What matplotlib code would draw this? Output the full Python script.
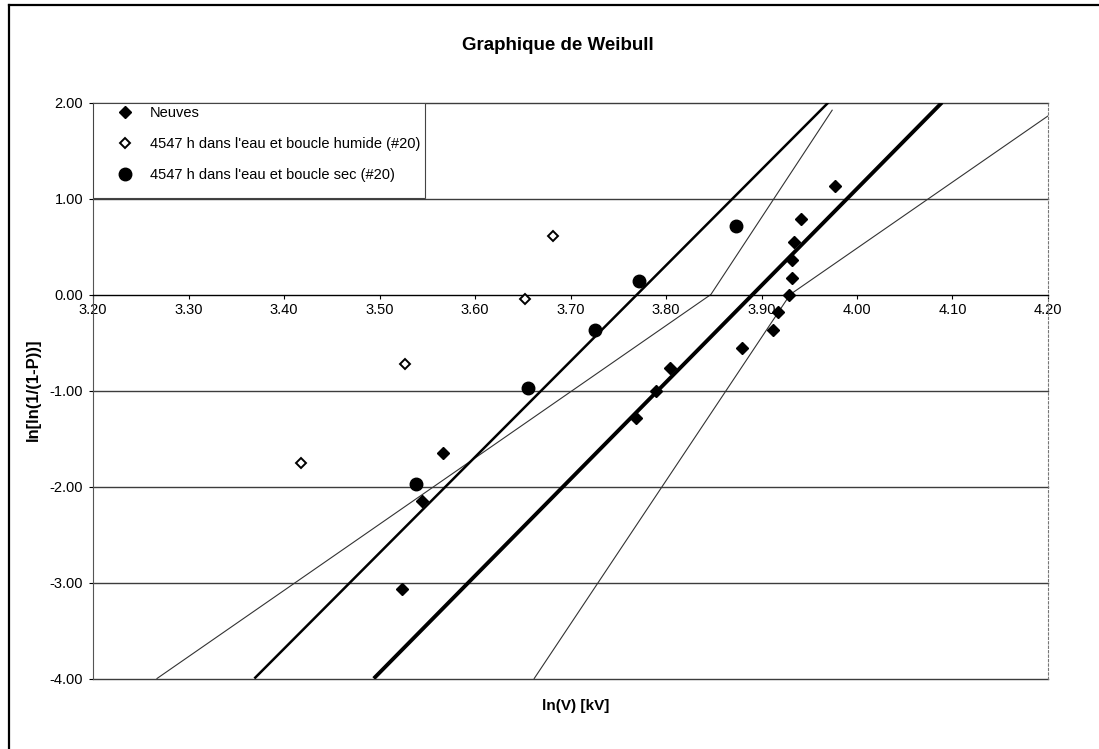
import matplotlib
matplotlib.use("Agg")
import matplotlib.pyplot as plt
from matplotlib.lines import Line2D
from matplotlib.patches import Rectangle

plt.rcParams["font.family"] = ["Liberation Sans", "DejaVu Sans"]

# Observed points: ln(V) and ln[ln(1/(1-P))]
neuves_lnv = [3.524, 3.545, 3.567, 3.769, 3.790, 3.804, 3.880, 3.912,
              3.917, 3.929, 3.932, 3.932, 3.934, 3.941, 3.977]
neuves_w = [-3.07, -2.15, -1.65, -1.29, -1.01, -0.77, -0.56, -0.37,
            -0.18, -0.01, 0.17, 0.36, 0.55, 0.79, 1.13]

humide_lnv = [3.418, 3.527, 3.652, 3.682]
humide_w = [-1.75, -0.72, -0.05, 0.61]

sec_lnv = [3.538, 3.655, 3.726, 3.772, 3.873]
sec_w = [-1.97, -0.97, -0.37, 0.14, 0.71]

# Fitted Weibull lines and bounds (vertices)
droite_neuves_lnv = [3.494, 4.089]
droite_neuves_w = [-4.0, 2.0]
droite_sec_lnv = [3.369, 3.970]
droite_sec_w = [-4.0, 2.0]
borne_gauche_lnv = [3.267, 3.847, 3.974]
borne_gauche_w = [-4.0, 0.0, 1.92]
borne_droite_lnv = [3.662, 3.930, 4.200]
borne_droite_w = [-4.0, 0.0, 1.86]

xticks = [3.20, 3.30, 3.40, 3.50, 3.60, 3.70, 3.80, 3.90, 4.00, 4.10, 4.20]
yticks = [-4.0, -3.0, -2.0, -1.0, 0.0, 1.0, 2.0]

legend_labels = ["Neuves",
                 "4547 h dans l'eau et boucle humide (#20)",
                 "4547 h dans l'eau et boucle sec (#20)"]

W, H = 1099, 749
fig = plt.figure(figsize=(W / 100, H / 100), dpi=100)
fig.patch.set_facecolor("white")

# page edges (left and top)
fig.add_artist(Line2D([9 / W, 9 / W], [0, 1 - 5 / H], transform=fig.transFigure,
                      color="black", lw=1.6))
fig.add_artist(Line2D([9 / W, 1], [1 - 5 / H, 1 - 5 / H], transform=fig.transFigure,
                      color="black", lw=1.6))

ax = fig.add_axes([93 / W, 1 - 678.5 / H, 955 / W, 576 / H])
ax.set_xlim(3.2, 4.2)
ax.set_ylim(-4, 2)

# horizontal gridlines
for yv in yticks:
    if yv != 0:
        ax.axhline(yv, color="#3c3c3c", lw=1.0, zorder=1, clip_on=False)

# spines
ax.spines["top"].set_visible(False)
ax.spines["left"].set_color("#555555")
ax.spines["left"].set_linewidth(0.8)
ax.spines["right"].set_color("#777777")
ax.spines["right"].set_linewidth(0.8)
ax.spines["right"].set_linestyle((0, (2, 2)))
ax.spines["bottom"].set_position(("data", 0))
ax.spines["bottom"].set_color("black")
ax.spines["bottom"].set_linewidth(1.0)

ax.set_xticks(xticks)
ax.set_xticklabels([f"{v:.2f}" for v in xticks])
ax.set_yticks(yticks)
ax.set_yticklabels([f"{v:.2f}" for v in yticks])
ax.tick_params(axis="x", direction="out", length=3, width=0.8, pad=3,
               labelsize=10.5, colors="black")
ax.tick_params(axis="y", direction="out", length=3, width=0.8, pad=4,
               labelsize=10.5, colors="black")

# lines
ax.plot(borne_gauche_lnv, borne_gauche_w, color="#333333", lw=0.8, zorder=2)
ax.plot(borne_droite_lnv, borne_droite_w, color="#333333", lw=0.8, zorder=2)
ax.plot(droite_sec_lnv, droite_sec_w, color="black", lw=1.8, zorder=3,
        solid_capstyle="butt")
ax.plot(droite_neuves_lnv, droite_neuves_w, color="black", lw=2.8, zorder=3,
        solid_capstyle="butt")

# points
h1, = ax.plot(neuves_lnv, neuves_w, ls="none", marker="D", ms=6.2,
              color="black", zorder=4)
h2, = ax.plot(humide_lnv, humide_w, ls="none", marker="D", ms=5.2,
              mfc="white", mec="black", mew=1.4, zorder=4)
h3, = ax.plot(sec_lnv, sec_w, ls="none", marker="o", ms=9.0,
              color="black", zorder=4)

# legend frame and entries
ax.add_patch(Rectangle((0, 1.0), (425 - 93) / 955, -(198 - 102.5) / 576,
                       transform=ax.transAxes, fill=True, facecolor="white",
                       edgecolor="#444444", lw=0.8, zorder=5))
leg = ax.legend([h1, h2, h3], legend_labels, loc="upper left",
                bbox_to_anchor=(118 / W, 1 - 106 / H),
                bbox_transform=fig.transFigure, frameon=False,
                fontsize=10.5, handlelength=1.0, handletextpad=1.2,
                labelspacing=1.18, borderpad=0.0, borderaxespad=0.0)
leg.set_zorder(6)

fig.text(558 / W, 1 - 45 / H, "Graphique de Weibull", ha="center", va="center",
         fontsize=13.5, fontweight="bold")
fig.text(576 / W, 1 - 706 / H, "ln(V) [kV]", ha="center", va="center",
         fontsize=11, fontweight="bold")
fig.text(33 / W, 1 - 390 / H, "ln[ln(1/(1-P))]", ha="center", va="center",
         rotation=90, fontsize=12, fontweight="bold")

fig.savefig("out.png", dpi=100)
